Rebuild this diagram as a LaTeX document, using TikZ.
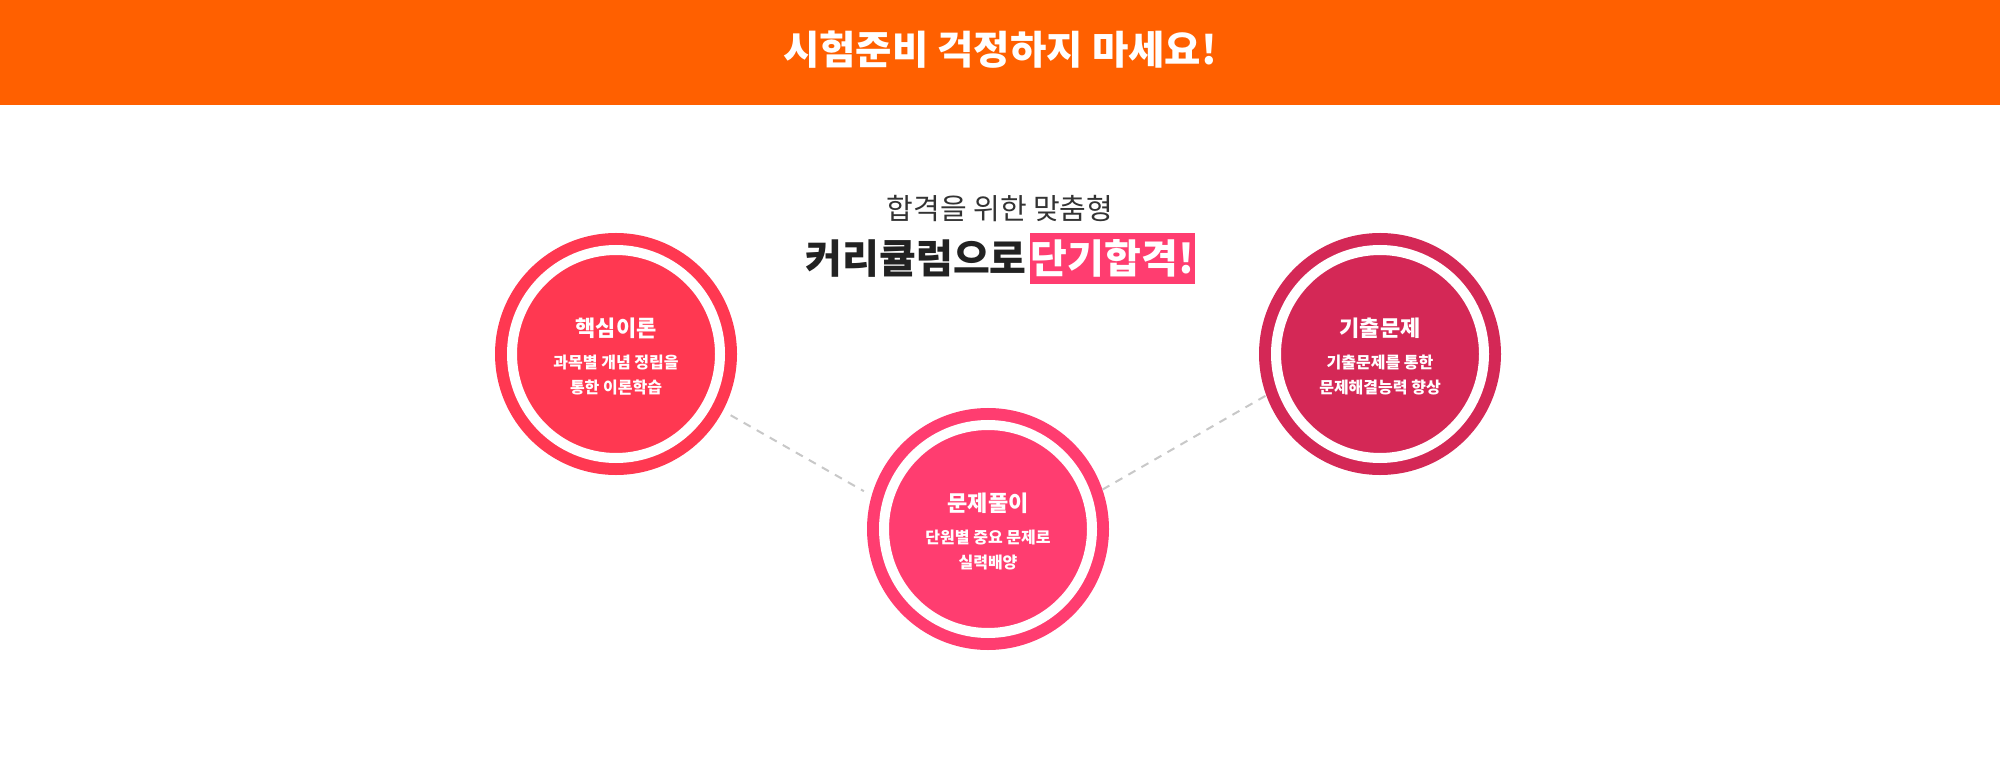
\documentclass[tikz,border=0pt]{standalone}
\usepackage{fontspec}
\setmainfont{Noto Sans CJK KR}
\usetikzlibrary{positioning}
\definecolor{HeadOrange}{RGB}{255,96,0}
\definecolor{CoreRed}{RGB}{255,56,81}
\definecolor{DrillPink}{RGB}{255,61,112}
\definecolor{PastCrimson}{RGB}{212,40,86}
\definecolor{DashGray}{RGB}{200,200,200}
\definecolor{InkDark}{RGB}{34,34,34}
\definecolor{InkGray}{RGB}{51,51,51}

\begin{document}
\begin{tikzpicture}[x=1pt,y=-1pt,
  ball/.style={circle,minimum size=208pt,inner sep=0pt,outer sep=17pt,
    fill=#1,draw=#1,line width=12pt,double=white,double distance=10pt},
  balltitle/.style={text=white,font=\fontsize{22}{26}\selectfont\bfseries},
  ballnote/.style={text=white,align=center,font=\fontsize{16}{25}\selectfont\bfseries},
  link/.style={DashGray,line width=2pt,dash pattern=on 8pt off 7pt}]
\useasboundingbox (0,0) rectangle (2000,759);
\fill[white] (0,0) rectangle (2000,759);

% header band
\fill[HeadOrange] (0,0) rectangle (2000,105);
\node[text=white,font=\fontsize{39.5}{48}\selectfont\bfseries] (headline) at (1000,50) {시험준비 걱정하지 마세요!};

% title
\node[text=InkGray,font=\fontsize{29}{34}\selectfont] (tagline) at (1000,209) {합격을 위한 맞춤형};
\node[fill=DrillPink,text=white,minimum width=165pt,minimum height=51pt,inner sep=0pt,
  font=\fontsize{40}{48}\selectfont\bfseries] (dangi) at (1112.5,258.5) {단기합격!};
\node[left=3pt of dangi,text=InkDark,inner sep=0pt,font=\fontsize{40}{48}\selectfont\bfseries] (curri) {커리큘럼으로};

% circles
\node[ball=CoreRed] (core) at (616,354) {};
\node[ball=DrillPink] (drill) at (988,529) {};
\node[ball=PastCrimson] (past) at (1380,354) {};

\node[balltitle] (coretitle) at ([yshift=26pt]core.center) {핵심이론};
\node[ballnote] (corenote) at ([yshift=-21pt]core.center) {과목별 개념 정립을\\통한 이론학습};
\node[balltitle] (drilltitle) at ([yshift=26pt]drill.center) {문제풀이};
\node[ballnote] (drillnote) at ([yshift=-21pt]drill.center) {단원별 중요 문제로\\실력배양};
\node[balltitle] (pasttitle) at ([yshift=26pt]past.center) {기출문제};
\node[ballnote] (pastnote) at ([yshift=-21pt]past.center) {기출문제를 통한\\문제해결능력 향상};

% dashed links
\draw[link,shorten <=9pt,shorten >=9pt] (core.-28.5) -- (drill.164);
\draw[link] (drill.19.6) -- (past.200.7);

\end{tikzpicture}
\end{document}
